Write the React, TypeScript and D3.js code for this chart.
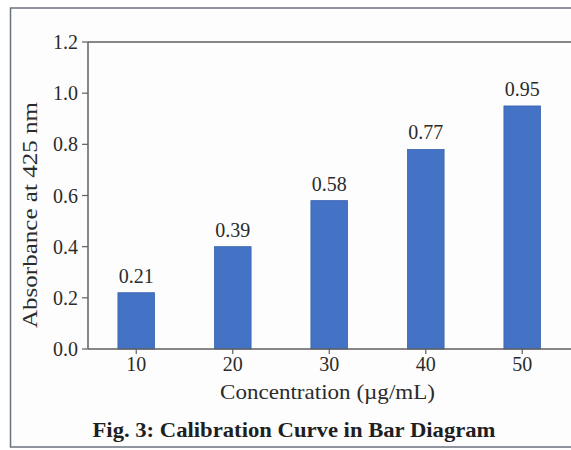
import React from "react";
import * as d3 from "d3";

const categories = ["10", "20", "30", "40", "50"];
const values = [0.22, 0.40, 0.58, 0.78, 0.95];
const valueLabels = ["0.21", "0.39", "0.58", "0.77", "0.95"];
const yTicks = [0, 0.2, 0.4, 0.6, 0.8, 1.0, 1.2];
const xTitle = "Concentration (µg/mL)";
const yTitle = "Absorbance at 425 nm";
const caption = "Fig. 3: Calibration Curve in Bar Diagram";

const W = 571;
const H = 450;
const M = { left: 88, top: 42, right: 571, bottom: 349 };

export default function App() {
  const x = d3.scaleBand<string>().domain(categories).range([M.left, M.left + 5 * 96.5]).paddingInner(0.62).paddingOuter(0.31);
  const y = d3.scaleLinear().domain([0, 1.2]).range([M.bottom, M.top]);
  const axisColor = "#5f5f5f";
  const font = "'Liberation Serif', 'Times New Roman', serif";
  const textColor = "#2b2b2b";
  return (
    <svg width={W} height={H} style={{ position: "absolute", left: 0, top: 0, background: "#fff" }} fontFamily={font}>
      <rect x={10.5} y={8} width={W} height={439} fill="#fdfdfd" stroke="#6b7280" strokeWidth={1.5} />
      {/* plot top border */}
      <line x1={M.left} x2={W} y1={M.top} y2={M.top} stroke={axisColor} strokeWidth={1.5} />
      {/* y axis */}
      <line x1={M.left} x2={M.left} y1={M.top} y2={M.bottom} stroke={axisColor} strokeWidth={1.5} />
      {yTicks.map((t) => (
        <g key={t}>
          <line x1={M.left - 6} x2={M.left} y1={y(t)} y2={y(t)} stroke={axisColor} strokeWidth={1.2} />
          <text x={M.left - 10} y={y(t)} dy="0.35em" textAnchor="end" fontSize={20} fill={textColor}>
            {d3.format(".1f")(t)}
          </text>
        </g>
      ))}
      {/* bars */}
      {categories.map((c, i) => (
        <g key={c}>
          <rect
            x={x(c)}
            y={y(values[i])}
            width={x.bandwidth()}
            height={y(0) - y(values[i])}
            fill="#4472c4"
            stroke="#3a64b0"
            strokeWidth={0.8}
          />
          <text x={(x(c) as number) + x.bandwidth() / 2} y={y(values[i]) - 10} textAnchor="middle" fontSize={20} fill={textColor}>
            {valueLabels[i]}
          </text>
          <line
            x1={(x(c) as number) + x.bandwidth() / 2}
            x2={(x(c) as number) + x.bandwidth() / 2}
            y1={M.bottom}
            y2={M.bottom + 5}
            stroke={axisColor}
            strokeWidth={1.2}
          />
          <text x={(x(c) as number) + x.bandwidth() / 2} y={371} textAnchor="middle" fontSize={20} fill={textColor}>
            {c}
          </text>
        </g>
      ))}
      {/* x axis */}
      <line x1={M.left} x2={W} y1={M.bottom} y2={M.bottom} stroke={axisColor} strokeWidth={1.5} />
      <text x={327.5} y={399} textAnchor="middle" fontSize={21} fill={textColor} textLength={215} lengthAdjust="spacingAndGlyphs">
        {xTitle}
      </text>
      <text transform={`translate(37, 215) rotate(-90)`} textAnchor="middle" fontSize={21} fill={textColor} textLength={226} lengthAdjust="spacingAndGlyphs">
        {yTitle}
      </text>
      <text x={294} y={437} textAnchor="middle" fontSize={21} fontWeight="bold" fill="#1f1f1f" textLength={403} lengthAdjust="spacingAndGlyphs">
        {caption}
      </text>
    </svg>
  );
}
